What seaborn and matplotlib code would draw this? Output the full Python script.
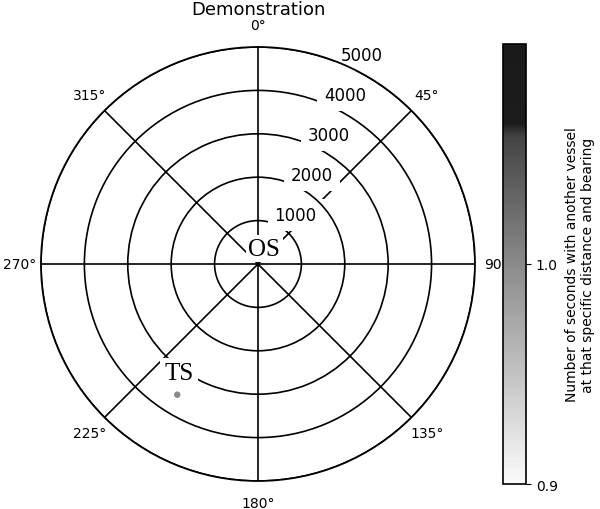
import numpy as np
import pandas as pd
import matplotlib
matplotlib.use("Agg")
import matplotlib.pyplot as plt
import seaborn as sns
from matplotlib.colors import LinearSegmentedColormap, Normalize
from matplotlib.cm import ScalarMappable

sns.set_style("white")
plt.rcParams['font.family'] = ['DejaVu Sans']
plt.rcParams['text.color'] = 'black'
plt.rcParams['xtick.color'] = 'black'
plt.rcParams['ytick.color'] = 'black'
plt.rcParams['axes.labelcolor'] = 'black'

# data
ts_bearing_deg = [211.7]
ts_distance = [3540]
ts_seconds = [1.0]
r_ticks = [1000, 2000, 3000, 4000, 5000]
theta_ticks_deg = [0, 45, 90, 135, 180, 225, 270, 315]
theta_labels = ["0°", "45°", "90°", "135°", "180°", "225°", "270°", "315°"]
cbar_ticks = [0.9, 1.0]
cbar_range = (0.9, 1.1)

cmap = LinearSegmentedColormap.from_list(
    "vessel", [(0.0, "#fbfbfb"), (0.5, "#8a8a8a"), (0.79, "#444444"),
               (0.82, "#1c1c1c"), (1.0, "#1a1a1a")])
norm = Normalize(*cbar_range)

fig = plt.figure(figsize=(6.0, 5.1), dpi=100)
ax = fig.add_axes([0.0683, 0.0549, 0.7233, 0.851], projection="polar")
ax.set_theta_zero_location("N")
ax.set_theta_direction(-1)

df = pd.DataFrame({"theta": np.deg2rad(ts_bearing_deg), "r": ts_distance,
                   "sec": ts_seconds})
sns.scatterplot(data=df, x="theta", y="r", color=cmap(norm(ts_seconds[0])),
                s=22, edgecolor="none", ax=ax, legend=False, zorder=4)
ax.set_xlabel("")
ax.set_ylabel("")

ax.set_rlim(0, 5000)
ax.set_rticks(r_ticks)
ax.set_yticklabels([str(v) for v in r_ticks], fontsize=12)
ax.set_rlabel_position(22.5)
ax.set_xticks(np.deg2rad(theta_ticks_deg))
ax.set_xticklabels(theta_labels, fontsize=10)
ax.tick_params(axis="x", pad=5)
ax.grid(True, color="black", linewidth=1.2)
ax.spines["polar"].set_linewidth(1.3)
ax.spines["polar"].set_color("black")
for lbl in ax.get_yticklabels():
    lbl.set_bbox(dict(facecolor="white", edgecolor="none", pad=5))

ax.set_title("Demonstration", fontsize=13, pad=1)

serif = ["Liberation Serif", "DejaVu Serif"]
ax.annotate("OS", xy=(0, 0), xytext=(4.5, 11), textcoords="offset points",
            ha="center", va="center", fontsize=18, family=serif, zorder=5,
            bbox=dict(facecolor="white", edgecolor="none", pad=2))
ax.annotate("TS", xy=(np.deg2rad(ts_bearing_deg[0]), ts_distance[0]),
            xytext=(1.5, 15.5), textcoords="offset points",
            ha="center", va="center", fontsize=18, family=serif, zorder=5,
            bbox=dict(facecolor="white", edgecolor="none", pad=3))

cax = fig.add_axes([0.8383, 0.049, 0.0383, 0.863])
sm = ScalarMappable(norm=norm, cmap=cmap)
cb = fig.colorbar(sm, cax=cax, ticks=cbar_ticks)
cb.ax.tick_params(labelsize=10, color="black")
cb.set_label("Number of seconds with another vessel\nat that specific distance and bearing",
             fontsize=10, labelpad=5)
cb.outline.set_linewidth(1.2)
cb.outline.set_edgecolor("black")

fig.savefig("out.png", dpi=100)
